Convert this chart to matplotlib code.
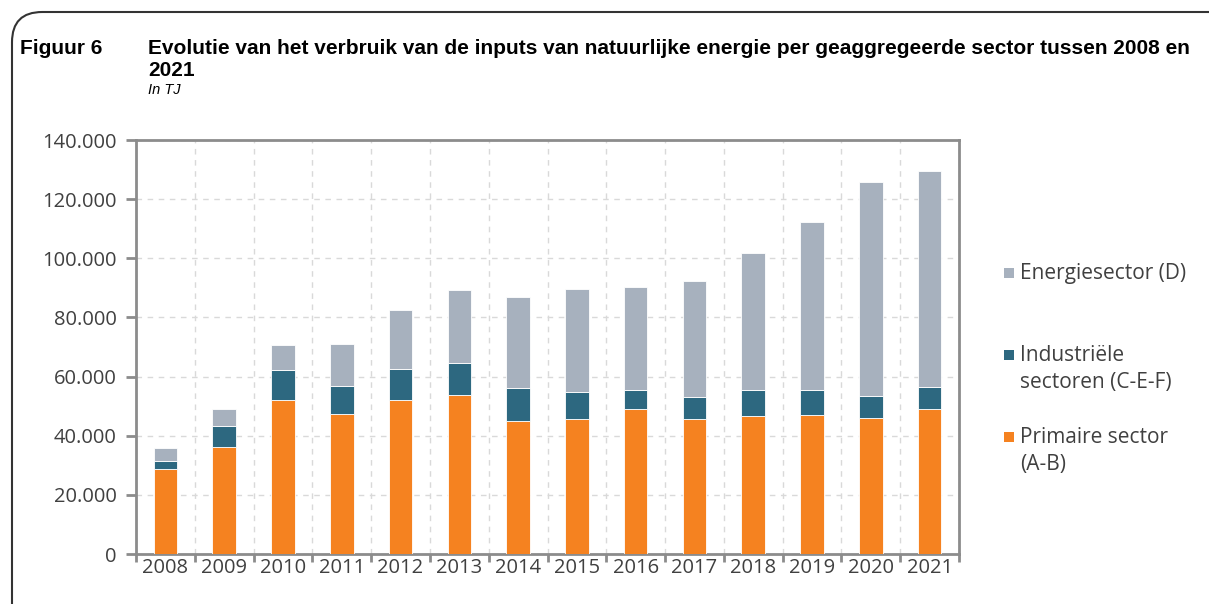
import numpy as np
from matplotlib import pyplot as plt
from matplotlib.patches import FancyBboxPatch, Rectangle
from matplotlib.ticker import FuncFormatter, MultipleLocator

years = ['2008', '2009', '2010', '2011', '2012', '2013', '2014',
         '2015', '2016', '2017', '2018', '2019', '2020', '2021']

# TJ
primaire = [28900, 36200, 52100, 47200, 52000, 53700, 45100,
            45600, 49000, 45700, 46700, 47000, 46000, 48900]
industrie = [2550, 7100, 10250, 9700, 10700, 11000, 11150,
             9200, 6350, 7300, 8800, 8450, 7450, 7700]
energie = [4300, 5750, 8350, 13950, 19700, 24700, 30550,
           34850, 34850, 39350, 46300, 56700, 72350, 72850]

labels = ['Primaire sector\n(A-B)', 'Industriële\nsectoren (C-E-F)', 'Energiesector (D)']
colors = ['#F58220', '#2D6880', '#A7B1BE']

plt.rcParams['font.family'] = ['Open Sans', 'DejaVu Sans']

W, H = 1209, 604
fig = plt.figure(figsize=(W / 100, H / 100), dpi=100)

# rounded frame around the figure
frame = FancyBboxPatch((12 / W, -0.2), 1.2, 1.2 - 12 / H,
                       boxstyle='round,pad=0,rounding_size=0.025',
                       transform=fig.transFigure, fill=False,
                       edgecolor='#333333', linewidth=1.5, mutation_aspect=2)
fig.patches.append(frame)

title_font = dict(fontsize=15, fontweight='bold', va='center', ha='left',
                  color='black', family='Liberation Sans')
fig.text(20 / W, 1 - 48 / H, 'Figuur 6', **title_font)
fig.text(148 / W, 1 - 48 / H,
         'Evolutie van het verbruik van de inputs van natuurlijke energie per geaggregeerde sector tussen 2008 en',
         **title_font)
fig.text(148 / W, 1 - 70 / H, '2021', **title_font)
fig.text(148 / W, 1 - 90 / H, 'In TJ', fontsize=10.5, style='italic',
         va='center', ha='left', family='Liberation Sans')

ax = fig.add_axes([136 / W, 50 / H, 823 / W, 414 / H])

x = np.arange(len(years))
width = 0.4
bottom = np.zeros(len(years))
for vals, col, lab in zip([primaire, industrie, energie], colors, labels):
    ax.bar(x, vals, width=width, bottom=bottom, color=col, label=lab,
           edgecolor='white', linewidth=0.6, zorder=3)
    bottom += np.array(vals)

ax.set_xlim(-0.5, len(years) - 0.5)
ax.set_ylim(0, 140000)
ax.yaxis.set_major_locator(MultipleLocator(20000))
ax.yaxis.set_major_formatter(FuncFormatter(lambda v, p: f'{int(v):,}'.replace(',', '.')))
ax.set_xticks(x)
ax.set_xticklabels(years)
ax.set_xticks(np.arange(-0.5, len(years)), minor=True)

ax.grid(axis='y', which='major', linestyle=(0, (4, 4)), color='#D9D9D9', linewidth=1, zorder=0)
ax.grid(axis='x', which='minor', linestyle=(0, (4, 4)), color='#D9D9D9', linewidth=1, zorder=0)

for s in ax.spines.values():
    s.set_color('#8C8C8C')
    s.set_linewidth(2)

ax.tick_params(axis='y', direction='out', length=7, width=2, color='#8C8C8C',
               labelsize=14.5, labelcolor='#404040', pad=7)
ax.tick_params(axis='x', which='major', length=0, labelsize=14.5, labelcolor='#404040', pad=3)
ax.tick_params(axis='x', which='minor', direction='out', length=6, width=2, color='#8C8C8C')

# legend: marker aligned with the first line of each label, like the original
legend_y = [273, 355, 437]
for yy, col, lab in zip(legend_y, colors[::-1], labels[::-1]):
    fig.patches.append(Rectangle((1004 / W, 1 - (yy + 5) / H), 10 / W, 10 / H,
                                 transform=fig.transFigure, facecolor=col,
                                 edgecolor='none'))
    fig.text(1020 / W, 1 - (yy - 10) / H, lab, fontsize=15, color='#404040',
             ha='left', va='top', linespacing=1.4)

plt.savefig('out.png', dpi=100)
